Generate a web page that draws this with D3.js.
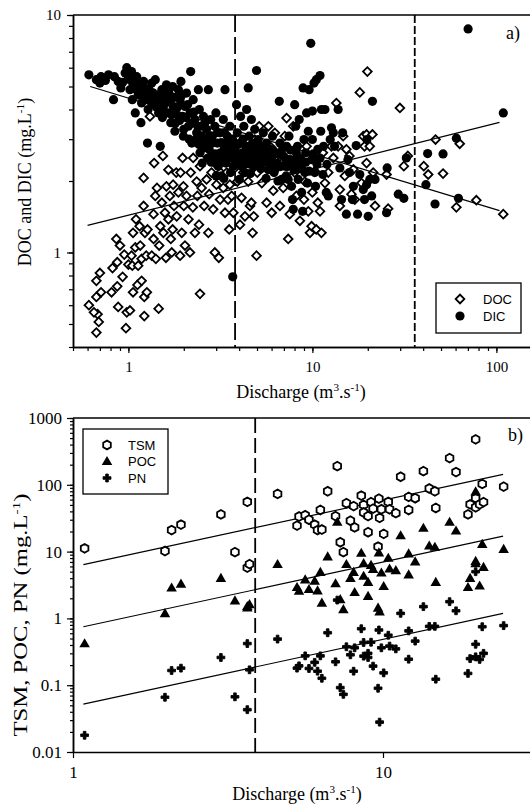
<!DOCTYPE html>
<html>
<head>
<meta charset="utf-8">
<script src="https://cdn.jsdelivr.net/npm/d3@7"></script>
<style>
body { margin: 0; background: #fff; }
svg { display: block; }
</style>
</head>
<body>
<script>
// panel a : discharge (m3/s) vs concentration (mg/L)
var docPts = [
  [0.61,0.60],[0.67,0.46],[0.68,0.55],[0.69,0.51],[0.65,0.56],[0.67,0.65],[0.67,0.76],[0.70,0.82],
  [0.71,0.68],[0.81,0.68],[0.82,0.86],[0.86,1.14],[0.87,0.91],[0.87,0.72],[0.88,0.59],[0.90,1.07],
  [0.93,0.79],[0.95,0.98],[0.97,0.48],[0.98,0.56],[1.02,0.57],[1.0,0.89],[1.04,0.97],[1.06,0.68],
  [1.09,1.05],[1.06,1.21],[1.05,0.88],[1.10,1.38],[1.12,0.73],[1.13,0.88],[1.15,1.29],[1.16,1.07],
  [1.18,0.94],[1.18,0.76],[1.21,1.57],[1.21,2.06],[1.22,0.65],[1.22,0.54],[1.23,1.21],[1.25,0.97],
  [1.26,0.68],[1.27,1.25],[1.31,3.74],[1.34,0.97],[1.37,1.45],[1.37,1.14],[1.38,2.38],[1.40,1.73],
  [1.41,0.94],[1.43,1.87],[1.46,0.58],[1.47,1.07],[1.49,1.29],[1.52,1.62],[1.54,2.55],[1.55,1.21],
  [1.58,1.47],[1.60,0.95],[1.61,1.90],[1.65,2.23],[1.65,1.38],[1.68,1.73],[1.70,1.14],[1.72,1.0],
  [1.74,1.25],[1.75,1.93],[1.77,1.57],[1.82,2.17],[1.83,1.42],[1.87,1.79],[1.91,0.97],[1.92,2.17],
  [1.95,1.21],[1.97,2.50],[1.99,1.90],[2.00,1.57],[2.03,1.07],[2.07,1.73],[2.12,1.38],[2.16,1.0],
  [2.18,2.17],[2.24,1.55],[2.25,2.50],[2.30,1.21],[2.35,1.99],[2.37,1.73],[2.42,1.31],[2.45,0.67],
  [2.45,2.31],[2.50,1.87],[2.58,1.57],[2.61,2.59],[2.66,2.03],[2.72,1.21],[2.75,1.76],[2.83,2.17],
  [2.89,1.52],[2.95,1.0],[2.99,2.35],[3.01,1.93],[3.10,0.95],[3.15,1.67],[3.17,2.17],[3.28,1.87],
  [3.35,1.47],[3.42,2.17],[3.48,1.67],[3.53,1.25],[3.56,1.93],[3.64,1.73],[3.72,1.47],[3.79,2.27],
  [3.91,1.99],[4.04,1.31],[4.12,1.70],[4.21,2.17],[4.30,1.42],[4.39,2.38],[4.48,1.99],[4.58,1.57],
  [4.66,1.62],[4.73,1.21],[4.80,1.42],[4.86,2.99],[4.97,0.97],[5.02,2.17],[5.14,3.40],[5.31,1.96],
  [5.41,2.46],[5.64,1.62],[5.76,3.40],[5.88,2.80],[6.01,1.47],[6.13,1.82],[6.25,3.19],[6.38,2.31],
  [6.66,1.57],[6.80,2.46],[6.94,1.87],[7.08,3.09],[7.24,3.68],[7.39,1.14],[7.53,1.45],[7.70,2.43],
  [7.87,3.40],[8.01,2.17],[8.18,1.73],[8.55,1.36],[8.74,2.38],[9.0,1.67],[9.1,1.99],[9.3,2.80],
  [9.5,1.49],[9.7,1.21],[9.9,1.29],[10.0,1.79],[10.3,2.20],[10.5,1.25],[10.7,1.62],[11.0,1.49],
  [11.2,1.21],[11.4,2.63],[11.7,1.96],[12.2,2.17],[12.7,2.80],[13.0,2.50],[13.5,4.26],[13.8,2.80],
  [14.1,1.84],[14.1,1.57],[14.7,3.09],[15.0,2.10],[15.3,2.72],[15.9,2.55],[16.3,1.76],[16.7,2.24],
  [17.0,1.67],[18.1,4.72],[18.5,1.96],[18.9,3.09],[19.2,2.80],[19.7,2.38],[19.7,3.14],[19.9,5.78],
  [20.5,2.80],[21.2,3.14],[21.4,2.17],[21.9,1.57],[25.3,2.13],[25.8,1.53],[29.9,4.06],[31.4,2.31],
  [33.0,2.55],[40.3,2.31],[42.6,2.13],[46.7,2.99],[51.3,2.15],[60.6,1.55],[63.2,2.87],[77.8,1.66],
  [109,1.45]
];
var dicPts = [
  [0.61,5.6],[0.67,5.34],[0.71,5.5],[0.70,5.17],[0.83,4.4],[0.84,5.5],[0.88,5.25],[0.91,4.93],
  [0.98,6.0],[1.0,5.5],[1.02,4.85],[1.04,5.78],[1.06,5.17],[1.05,4.4],[1.09,3.87],[1.11,5.5],
  [1.13,4.6],[1.16,5.0],[1.17,3.52],[1.18,4.26],[1.21,5.25],[1.23,4.4],[1.26,4.85],[1.28,4.0],
  [1.27,2.89],[1.31,4.53],[1.34,5.17],[1.37,4.26],[1.40,5.34],[1.43,4.4],[1.46,3.87],[1.49,2.80],
  [1.52,4.85],[1.55,4.12],[1.58,4.53],[1.61,5.08],[1.63,3.87],[1.68,4.4],[1.70,3.52],[1.74,5.0],
  [1.75,4.12],[1.79,3.24],[1.83,3.81],[1.87,4.85],[1.91,4.4],[1.93,5.25],[1.97,3.74],[1.99,3.09],
  [2.03,4.12],[2.07,4.69],[2.12,3.40],[2.16,3.87],[2.18,5.78],[2.21,2.89],[2.25,4.4],[2.30,3.63],
  [2.35,3.19],[2.40,4.85],[2.43,4.0],[2.45,2.63],[2.48,3.40],[2.52,2.38],[2.56,3.74],[2.61,2.99],
  [2.66,3.30],[2.72,4.85],[2.75,2.72],[2.80,3.63],[2.86,3.09],[2.89,2.55],[2.95,3.40],[2.99,3.87],
  [3.04,2.89],[3.08,2.31],[3.15,3.19],[3.17,2.63],[3.21,2.10],[3.28,3.63],[3.31,2.80],[3.35,4.85],
  [3.39,2.38],[3.45,3.09],[3.48,2.55],[3.56,3.40],[3.59,2.17],[3.64,2.80],[3.69,0.79],[3.72,2.31],
  [3.76,2.63],[3.87,4.19],[3.91,3.19],[3.96,2.46],[4.01,2.03],[4.04,2.89],[4.07,3.74],[4.12,2.31],
  [4.17,2.63],[4.24,3.40],[4.30,2.17],[4.35,2.80],[4.39,4.0],[4.42,2.38],[4.48,4.93],[4.53,3.09],
  [4.58,2.55],[4.66,3.63],[4.73,2.89],[4.80,2.31],[4.86,3.30],[4.97,5.84],[5.02,2.63],[5.08,2.99],
  [5.19,2.38],[5.31,2.80],[5.41,3.19],[5.53,2.55],[5.64,2.89],[5.76,2.23],[5.88,2.72],[6.01,2.46],
  [6.07,3.09],[6.19,2.17],[6.32,2.63],[6.45,2.38],[6.61,4.33],[6.66,2.89],[6.80,2.03],[6.94,2.55],
  [7.08,2.31],[7.24,2.80],[7.39,2.03],[7.46,3.09],[7.53,2.46],[7.70,1.90],[7.80,1.67],[7.87,1.52],
  [7.94,2.23],[8.01,4.19],[8.12,3.40],[8.18,2.63],[8.37,2.03],[8.48,3.63],[8.55,2.38],[8.74,1.79],
  [8.85,1.49],[8.9,4.93],[9.0,2.99],[9.1,2.17],[9.2,2.63],[9.3,3.87],[9.4,1.96],[9.5,3.24],
  [9.6,4.85],[9.8,7.6],[9.9,2.46],[10.0,2.99],[10.0,3.94],[10.2,5.17],[10.3,2.17],[10.4,1.90],
  [10.5,5.34],[10.7,2.72],[11.0,5.56],[11.1,3.24],[11.2,4.0],[11.4,2.13],[11.7,4.0],[11.9,1.79],
  [12.2,1.73],[12.5,2.99],[12.7,3.35],[13.0,3.19],[13.2,2.80],[13.8,4.0],[14.1,2.27],[14.4,1.67],
  [14.6,3.19],[15.3,1.45],[15.6,2.46],[15.9,2.17],[16.5,1.67],[16.7,1.90],[17.3,2.82],[17.6,1.45],
  [18.1,2.13],[18.9,1.84],[19.2,1.67],[19.7,1.93],[19.8,2.99],[20.1,1.42],[20.5,2.03],[21.0,1.73],
  [21.2,4.33],[21.9,2.03],[25.3,1.47],[25.5,2.27],[29.3,1.76],[31.4,1.69],[32.4,2.50],[42.3,2.61],
  [41.4,1.93],[46.4,1.60],[51.3,2.60],[60.6,3.03],[62.2,1.69],[70.2,8.74],[109,3.87],
  // dense core of the DIC cloud
  [0.75,5.3],[0.78,5.6],[0.93,5.2],[0.96,5.7],[1.03,5.3],[1.07,4.9],[1.12,5.1],[1.15,4.7],
  [1.19,4.9],[1.24,4.6],[1.29,4.9],[1.33,4.3],[1.36,4.7],[1.42,4.1],[1.45,4.6],[1.5,4.3],
  [1.53,3.7],[1.57,3.9],[1.62,4.3],[1.66,4.7],[1.72,3.8],[1.78,4.5],[1.8,3.5],[1.85,4.1],
  [1.9,3.6],[1.95,4.6],[2.0,3.3],[2.05,3.7],[2.1,4.2],[2.14,3.0],[2.2,3.5],[2.27,3.9],
  [2.33,3.0],[2.38,3.4],[2.42,2.85],[2.5,3.1],[2.55,2.75],[2.6,3.5],[2.68,2.9],[2.7,2.5],
  [2.78,3.1],[2.82,2.4],[2.9,2.9],[2.97,2.6],[3.05,3.2],[3.1,2.45],[3.2,2.9],[3.25,2.5],
  [3.33,3.2],[3.4,2.65],[3.5,2.95],[3.6,2.5],[3.68,3.0],[3.8,2.7],[3.85,2.35],[3.95,2.85],
  [4.1,2.55],[4.2,3.0],[4.28,2.45],[4.45,2.65],[4.6,2.35],[4.7,2.75],[4.9,2.45],[5.0,2.85],
  [5.15,2.55],[5.25,2.25],[5.45,2.65],[5.6,2.4],[5.8,2.55],[5.95,2.3],[6.1,2.7],[6.3,2.25],
  [6.5,2.6],[6.7,2.3],[6.9,2.75],[7.1,2.5],[7.3,2.3],[7.6,2.7],[7.8,2.45],[8.1,2.35],
  [8.3,2.8],[8.6,2.5],[8.8,2.25],[9.2,2.4],[9.6,2.2],[10.1,2.6],[10.6,2.35],[11.0,2.5],
  [11.5,2.8],[12.0,2.35],[3.0,2.1],[3.3,2.05],[4.6,2.15],[5.6,2.05],[6.5,2.0],[7.2,2.1]
];
var docFit = [[0.6, 1.3], [104, 3.53]];
var dicFit = [[0.62, 5.0], [104, 1.5]];
var dashA = [3.8, 36];

// panel b : one sample per discharge value
var qB  = [1.09,1.98,2.08,2.23,3.0,3.33,3.65,3.65,3.71,4.57,5.28,5.36,5.61,5.77,6.02,6.15,6.28,6.35,6.63,7.03,
           7.12,7.28,7.45,7.62,7.85,8.04,8.1,8.51,8.66,8.66,8.95,8.95,9.15,9.29,9.7,9.64,9.75,9.88,10.05,10.4,
           10.5,11.0,11.4,12.1,12.1,12.7,13.5,14.1,14.7,14.8,16.4,17.2,18.8,19.1,19.9,19.9,19.9,20.5,20.9,21.1,24.5];
var tsm = [11.2,10.2,21,25.4,36,9.8,55.6,5.75,6.5,73,24.5,33.5,35,30,25.4,21,42,21.4,80,34,
           190,13.8,9.8,53,29,48,23,69,50,38.5,19.5,34,55,44,62,11.9,32,43,18.4,55.6,
           43,37.6,132,66,42,63,160,88,80,45,251,155,36,51,479,63,46,51,103,55,94];
var poc = [0.41,1.16,2.8,3.2,3.9,1.8,1.41,1.48,1.58,6.3,2.85,2.5,3.7,2.66,3.55,2.54,4.8,1.66,8.2,3.24,
           27,1.88,1.33,6.3,3.9,4.8,2.4,9.3,4.2,6.5,3.4,2.1,6.1,5.3,9.4,1.4,1.23,4.7,2.95,7.8,
           5.4,5.1,17,4.4,9.1,6.9,22,11.9,11.4,3.4,27,20,2.85,3.9,77,7.0,6.5,3.0,12.6,5.7,10.6];
var pn  = [0.0178,0.066,0.166,0.18,0.26,0.067,0.043,0.42,0.17,0.49,0.18,0.195,0.275,0.178,0.22,0.162,0.275,0.127,0.61,0.224,
           1.88,0.092,0.073,0.376,0.285,0.162,0.363,0.70,0.436,0.272,0.30,0.26,0.44,0.193,0.67,0.09,0.028,0.363,0.153,0.56,
           0.385,0.35,1.19,0.245,0.65,0.457,1.5,0.76,0.76,0.123,1.78,1.30,0.15,0.25,5.0,0.41,0.266,0.243,0.75,0.30,0.78];
var tsmFit = [[1.08, 6.4], [24.4, 143]];
var pocFit = [[1.08, 0.75], [24.4, 17]];
var pnFit  = [[1.08, 0.052], [24.4, 1.19]];
var dashB = 3.87;

var serif = "'Liberation Serif', 'Times New Roman', serif";
var sans = "'Liberation Sans', Arial, sans-serif";

var svg = d3.select("body").append("svg")
    .attr("width", 530)
    .attr("height", 804);

// hexagon for TSM
var hexagon = {
  draw: function(ctx, size) {
    var r = Math.sqrt(size / 2.598);
    for (var i = 0; i < 6; i++) {
      var a = -Math.PI / 2 + i * Math.PI / 3;
      if (i === 0) ctx.moveTo(r * Math.cos(a), r * Math.sin(a));
      else ctx.lineTo(r * Math.cos(a), r * Math.sin(a));
    }
    ctx.closePath();
  }
};

function logTicks(lo, hi) {
  var out = [];
  for (var e = Math.floor(Math.log10(lo)); e <= Math.ceil(Math.log10(hi)); e++) {
    for (var m = 1; m < 10; m++) {
      var v = m * Math.pow(10, e);
      if (v >= lo * 0.999 && v <= hi * 1.001) out.push(+v.toPrecision(3));
    }
  }
  return out;
}

function supLabel(sel, parts, size) {
  // parts alternate: text, superscript, text ...
  parts.forEach(function(p, i) {
    var sup = i % 2 === 1;
    sel.append("tspan")
      .attr("font-size", sup ? size * 0.62 : size)
      .attr("dy", sup ? -size * 0.4 : (i > 0 ? size * 0.4 : 0))
      .text(p);
  });
}

function styleAxis(g) {
  g.select(".domain").attr("stroke", "#000").attr("stroke-width", 1.5);
  g.selectAll(".tick line").attr("stroke", "#000").attr("stroke-width", 1.2);
}

// ---------- panel a ----------
var xa = d3.scaleLog().domain([0.5, 200]).range([73, 73 + Math.log10(400) * 184]);
var ya = d3.scaleLog().domain([0.4, 10]).range([347, 15]);
var ga = svg.append("g");

ga.append("line").attr("x1", 73).attr("x2", 530).attr("y1", 15).attr("y2", 15)
  .attr("stroke", "#000").attr("stroke-width", 1.5);

var xaMinor = ga.append("g").attr("transform", "translate(0,347)")
  .call(d3.axisBottom(xa).tickValues(logTicks(0.5, 200)).tickSize(4).tickSizeOuter(0).tickFormat(""));
styleAxis(xaMinor);
var xaMajor = ga.append("g").attr("transform", "translate(0,347)")
  .call(d3.axisBottom(xa).tickValues([1, 10, 100]).tickSize(6).tickPadding(8).tickSizeOuter(0).tickFormat(d3.format("d")));
styleAxis(xaMajor);
xaMajor.selectAll("text").attr("font-family", serif).attr("font-size", 15).attr("fill", "#000");

var yaMinor = ga.append("g").attr("transform", "translate(73,0)")
  .call(d3.axisLeft(ya).tickValues(logTicks(0.4, 10)).tickSize(4).tickSizeOuter(0).tickFormat(""));
styleAxis(yaMinor);
var yaMajor = ga.append("g").attr("transform", "translate(73,0)")
  .call(d3.axisLeft(ya).tickValues([1, 10]).tickSize(6).tickPadding(6).tickSizeOuter(0).tickFormat(d3.format("d")));
styleAxis(yaMajor);
yaMajor.selectAll("text").attr("font-family", serif).attr("font-size", 15).attr("fill", "#000");

// dashed thresholds
ga.append("line").attr("x1", xa(dashA[0])).attr("x2", xa(dashA[0])).attr("y1", 15).attr("y2", 347)
  .attr("stroke", "#000").attr("stroke-width", 1.8).attr("stroke-dasharray", "17,5");
ga.append("line").attr("x1", xa(dashA[1])).attr("x2", xa(dashA[1])).attr("y1", 15).attr("y2", 347)
  .attr("stroke", "#000").attr("stroke-width", 1.8).attr("stroke-dasharray", "8,3");

var lineA = d3.line().x(function(d) { return xa(d[0]); }).y(function(d) { return ya(d[1]); });

ga.selectAll("path.doc").data(docPts).enter().append("path")
  .attr("class", "doc")
  .attr("d", d3.symbol().type(d3.symbolSquare).size(38))
  .attr("transform", function(d) { return "translate(" + xa(d[0]) + "," + ya(d[1]) + ") rotate(45)"; })
  .attr("fill", "#fff").attr("stroke", "#000").attr("stroke-width", 1.8);

ga.selectAll("circle.dic").data(dicPts).enter().append("circle")
  .attr("class", "dic")
  .attr("cx", function(d) { return xa(d[0]); })
  .attr("cy", function(d) { return ya(d[1]); })
  .attr("r", 4.6).attr("fill", "#000");

[docFit, dicFit].forEach(function(f) {
  ga.append("path").attr("d", lineA(f)).attr("fill", "none").attr("stroke", "#000").attr("stroke-width", 1.2);
});

ga.append("text").attr("x", 506).attr("y", 39).attr("font-family", serif).attr("font-size", 18).text("a)");

var legA = ga.append("g");
legA.append("rect").attr("x", 436).attr("y", 283).attr("width", 85).attr("height", 50)
  .attr("fill", "#fff").attr("stroke", "#000").attr("stroke-width", 1.3);
legA.append("path").attr("d", d3.symbol().type(d3.symbolSquare).size(38))
  .attr("transform", "translate(460,299) rotate(45)")
  .attr("fill", "#fff").attr("stroke", "#000").attr("stroke-width", 1.8);
legA.append("circle").attr("cx", 460).attr("cy", 316).attr("r", 4.6).attr("fill", "#000");
legA.append("text").attr("x", 483).attr("y", 304).attr("font-family", sans).attr("font-size", 13).text("DOC");
legA.append("text").attr("x", 483).attr("y", 321).attr("font-family", sans).attr("font-size", 13).text("DIC");

var xlabA = ga.append("text").attr("x", 301).attr("y", 398).attr("text-anchor", "middle")
  .attr("font-family", serif);
supLabel(xlabA, ["Discharge (m", "3", ".s", "-1", ")"], 18);

var ylabA = ga.append("text").attr("transform", "translate(31,182) rotate(-90)").attr("text-anchor", "middle")
  .attr("font-family", serif);
supLabel(ylabA, ["DOC and DIC (mg.L", "-1", ")"], 18);

// ---------- panel b ----------
var xb = d3.scaleLog().domain([1, 40]).range([73, 73 + Math.log10(40) * 310]);
var yb = d3.scaleLog().domain([0.01, 1000]).range([752, 418]);
var gb = svg.append("g");

gb.append("line").attr("x1", 73).attr("x2", 530).attr("y1", 418).attr("y2", 418)
  .attr("stroke", "#000").attr("stroke-width", 1.5);

var xbMajor = gb.append("g").attr("transform", "translate(0,752)")
  .call(d3.axisBottom(xb).tickValues([1, 10]).tickSize(6).tickPadding(8).tickSizeOuter(0).tickFormat(d3.format("d")));
styleAxis(xbMajor);
xbMajor.selectAll("text").attr("font-family", serif).attr("font-size", 17).attr("fill", "#000");

var ybMinor = gb.append("g").attr("transform", "translate(73,0)")
  .call(d3.axisLeft(yb).tickValues(logTicks(0.01, 1000)).tickSize(3).tickSizeOuter(0).tickFormat(""));
styleAxis(ybMinor);
var ybMajor = gb.append("g").attr("transform", "translate(73,0)")
  .call(d3.axisLeft(yb).tickValues([0.01, 0.1, 1, 10, 100, 1000]).tickSize(6).tickPadding(5).tickSizeOuter(0)
    .tickFormat(function(d) { return d < 1 ? String(d) : d3.format("d")(d); }));
styleAxis(ybMajor);
ybMajor.selectAll("text").attr("font-family", serif).attr("font-size", 17).attr("fill", "#000");

gb.append("line").attr("x1", xb(dashB)).attr("x2", xb(dashB)).attr("y1", 418).attr("y2", 752)
  .attr("stroke", "#000").attr("stroke-width", 1.8).attr("stroke-dasharray", "15,5");

var lineB = d3.line().x(function(d) { return xb(d[0]); }).y(function(d) { return yb(d[1]); });
[tsmFit, pocFit, pnFit].forEach(function(f) {
  gb.append("path").attr("d", lineB(f)).attr("fill", "none").attr("stroke", "#000").attr("stroke-width", 1.2);
});

var symHex = d3.symbol().type(hexagon).size(50);
var symTri = d3.symbol().type(d3.symbolTriangle).size(48);
var symCross = d3.symbol().type(d3.symbolCross).size(34);

function pointAt(vals) {
  return function(d, i) { return "translate(" + xb(qB[i]) + "," + yb(vals[i]) + ")"; };
}

gb.selectAll("path.tsm").data(tsm).enter().append("path")
  .attr("class", "tsm").attr("d", symHex).attr("transform", pointAt(tsm))
  .attr("fill", "#fff").attr("stroke", "#000").attr("stroke-width", 1.8);
gb.selectAll("path.poc").data(poc).enter().append("path")
  .attr("class", "poc").attr("d", symTri).attr("transform", pointAt(poc))
  .attr("fill", "#000");
gb.selectAll("path.pn").data(pn).enter().append("path")
  .attr("class", "pn").attr("d", symCross).attr("transform", pointAt(pn))
  .attr("fill", "#000").attr("stroke", "#000").attr("stroke-width", 0.9).attr("stroke-linejoin", "round");

gb.append("text").attr("x", 508).attr("y", 441).attr("font-family", serif).attr("font-size", 18).text("b)");

var legB = gb.append("g");
legB.append("rect").attr("x", 83).attr("y", 429).attr("width", 85).attr("height", 65)
  .attr("fill", "#fff").attr("stroke", "#000").attr("stroke-width", 1.3);
legB.append("path").attr("d", symHex).attr("transform", "translate(107,445)")
  .attr("fill", "#fff").attr("stroke", "#000").attr("stroke-width", 1.8);
legB.append("path").attr("d", symTri).attr("transform", "translate(107,462)").attr("fill", "#000");
legB.append("path").attr("d", symCross).attr("transform", "translate(107,478)")
  .attr("fill", "#000").attr("stroke", "#000").attr("stroke-width", 0.9).attr("stroke-linejoin", "round");
[["TSM", 450], ["POC", 466], ["PN", 483]].forEach(function(t) {
  legB.append("text").attr("x", 128).attr("y", t[1]).attr("font-family", sans).attr("font-size", 13).text(t[0]);
});

var xlabB = gb.append("text").attr("x", 297).attr("y", 800).attr("text-anchor", "middle")
  .attr("font-family", serif);
supLabel(xlabB, ["Discharge (m", "3", ".s", "-1", ")"], 18);

var ylabB = gb.append("text").attr("transform", "translate(27,615) rotate(-90)").attr("text-anchor", "middle")
  .attr("font-family", serif).attr("textLength", 243).attr("lengthAdjust", "spacingAndGlyphs");
supLabel(ylabB, ["TSM, POC, PN (mg.L", "-1", ")"], 18);
</script>
</body>
</html>
